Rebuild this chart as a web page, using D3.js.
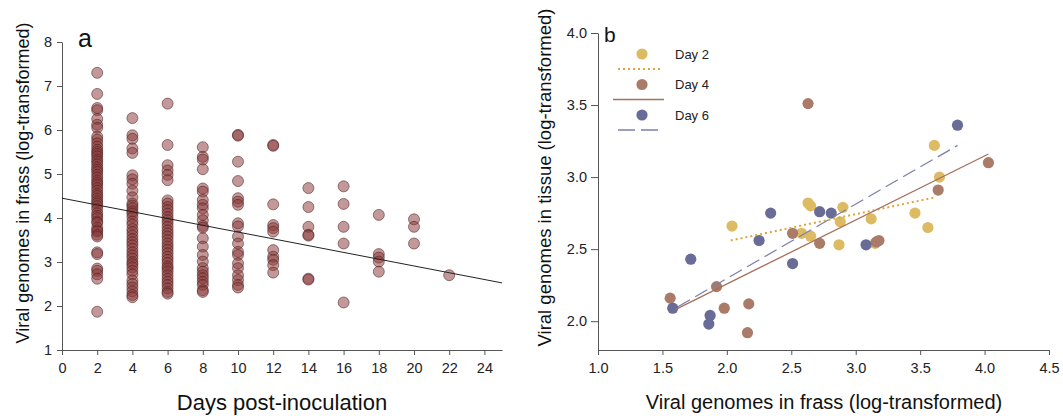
<!DOCTYPE html>
<html>
<head>
<meta charset="utf-8">
<script src="https://cdn.jsdelivr.net/npm/d3@7"></script>
<style>
  html, body { margin: 0; padding: 0; background: #fff; }
  svg { display: block; font-family: "Liberation Sans", Arial, sans-serif; }
  .axis path, .axis line { stroke: #555; stroke-width: 1; }
  .axis text { fill: #222; font-size: 14.5px; font-family: "Liberation Sans", Arial, sans-serif; }
</style>
</head>
<body>
<svg id="chart" width="1063" height="416"></svg>
<script>
// ---- Panel a: viral genomes in frass by day post-inoculation ----
const days = [2, 4, 6, 8, 10, 12, 14, 16, 18, 20, 22];
const frassDay2 = [7.30, 6.82, 6.50, 6.45, 6.25, 6.12, 6.05, 5.85, 5.78, 5.70, 5.62, 5.55, 5.50, 5.45,
  5.40, 5.33, 5.28, 5.22, 5.15, 5.10, 5.05, 4.98, 4.92, 4.85, 4.80, 4.75, 4.68, 4.62, 4.55, 4.50,
  4.44, 4.38, 4.33, 4.27, 4.20, 4.11, 4.05, 4.00, 3.92, 3.89, 3.78, 3.72, 3.69, 3.62, 3.58,
  3.22, 3.18, 2.85, 2.80, 2.72, 2.62, 1.87];
const frassDay4 = [6.27, 5.88, 5.80, 5.58, 5.48, 4.97, 4.88, 4.78, 4.62, 4.47, 4.33, 4.28, 4.22, 4.15,
  4.10, 4.02, 3.92, 3.85, 3.75, 3.68, 3.60, 3.52, 3.45, 3.38, 3.30, 3.22, 3.15, 3.08, 3.00, 2.95,
  2.88, 2.80, 2.72, 2.58, 2.50, 2.42, 2.33, 2.25, 2.20];
const frassDay6 = [6.60, 5.66, 5.20, 5.08, 4.98, 4.86, 4.40, 4.33, 4.25, 4.18, 4.10, 4.02, 3.95, 3.88,
  3.80, 3.72, 3.65, 3.58, 3.50, 3.42, 3.35, 3.28, 3.20, 3.12, 3.05, 2.98, 2.90, 2.85, 2.78, 2.70,
  2.62, 2.55, 2.48, 2.40, 2.32, 2.28];
const frassDay8 = [5.61, 5.39, 5.33, 5.11, 4.67, 4.60, 4.41, 4.30, 4.22, 4.07, 3.95, 3.82, 3.78, 3.54,
  3.35, 3.16, 3.01, 2.86, 2.78, 2.70, 2.63, 2.55, 2.48, 2.36, 2.32];
const frassDay10 = [5.89, 5.87, 5.28, 4.84, 4.45, 4.37, 4.30, 3.88, 3.81, 3.58, 3.42, 3.23, 3.16, 2.97,
  2.86, 2.70, 2.59, 2.48, 2.42];
const frassDay12 = [5.66, 5.64, 4.31, 3.84, 3.77, 3.69, 3.27, 3.12, 3.05, 2.93, 2.76];
const frassDay14 = [4.68, 4.25, 3.80, 3.62, 3.60, 2.62, 2.60];
const frassDay16 = [4.72, 4.32, 3.80, 3.42, 2.08];
const frassDay18 = [4.07, 3.18, 3.10, 3.01, 2.78];
const frassDay20 = [3.97, 3.80, 3.42];
const frassDay22 = [2.70];
const frassByDay = [frassDay2, frassDay4, frassDay6, frassDay8, frassDay10, frassDay12,
  frassDay14, frassDay16, frassDay18, frassDay20, frassDay22];
// fitted line: intercept and slope
const frassFit = [4.45, -0.077];
const dayTicks = [0, 2, 4, 6, 8, 10, 12, 14, 16, 18, 20, 22, 24];
const frassTicks = [1, 2, 3, 4, 5, 6, 7, 8];

// ---- Panel b: tissue vs frass by sampling day ----
const seriesNames = ["Day 2", "Day 4", "Day 6"];
const day2Frass = [2.04, 2.63, 2.65, 2.58, 2.65, 2.90, 2.88, 3.12, 2.87, 3.15, 3.46, 3.56, 3.61, 3.65];
const day2Tissue = [2.66, 2.82, 2.80, 2.61, 2.59, 2.79, 2.69, 2.71, 2.53, 2.54, 2.75, 2.65, 3.22, 3.00];
const day4Frass = [2.63, 4.03, 3.64, 1.56, 1.92, 1.98, 2.17, 2.16, 2.51, 2.72, 3.16, 3.18];
const day4Tissue = [3.51, 3.10, 2.91, 2.16, 2.24, 2.09, 2.12, 1.92, 2.61, 2.54, 2.55, 2.56];
const day6Frass = [3.79, 2.72, 2.81, 3.08, 2.51, 1.72, 1.58, 1.87, 1.86, 2.25, 2.34];
const day6Tissue = [3.36, 2.76, 2.75, 2.53, 2.40, 2.43, 2.09, 2.04, 1.98, 2.56, 2.75];
// fitted lines, as [frass, tissue] end points
const day2Fit = [[2.03, 2.56], [3.62, 2.86]];
const day4Fit = [[1.60, 2.08], [4.03, 3.16]];
const day6Fit = [[1.62, 2.10], [3.79, 3.22]];
const frassXTicks = [1.0, 1.5, 2.0, 2.5, 3.0, 3.5, 4.0, 4.5];
const tissueTicks = [2.0, 2.5, 3.0, 3.5, 4.0];

const svg = d3.select("#chart");
const font = "'Liberation Sans', Arial, sans-serif";

// ================= Panel a =================
const xA = d3.scaleLinear().domain([0, 25]).range([62, 502]);
const yA = d3.scaleLinear().domain([1, 8]).range([350, 42]);
const gA = svg.append("g");

gA.append("g").attr("class", "axis").attr("transform", `translate(0,${yA(1)})`)
  .call(d3.axisBottom(xA).tickValues(dayTicks).tickFormat(d3.format("d"))
    .tickSize(5).tickPadding(8).tickSizeOuter(0));
gA.append("g").attr("class", "axis").attr("transform", `translate(${xA(0)},0)`)
  .call(d3.axisLeft(yA).tickValues(frassTicks).tickFormat(d3.format("d"))
    .tickSize(5).tickPadding(5).tickSizeOuter(0));

const ptsA = [];
days.forEach((d, i) => frassByDay[i].forEach(v => ptsA.push({ day: d, v })));
gA.append("g").selectAll("circle").data(ptsA).join("circle")
  .attr("cx", p => xA(p.day)).attr("cy", p => yA(p.v)).attr("r", 5.5)
  .attr("fill", "#8b3a3a").attr("fill-opacity", 0.52)
  .attr("stroke", "#4a1e1e").attr("stroke-opacity", 0.6).attr("stroke-width", 0.9);

gA.append("line")
  .attr("x1", xA(0)).attr("y1", yA(frassFit[0]))
  .attr("x2", xA(25)).attr("y2", yA(frassFit[0] + frassFit[1] * 25))
  .attr("stroke", "#222").attr("stroke-width", 1);

gA.append("text").attr("x", 78).attr("y", 47).attr("font-size", 25).attr("fill", "#111")
  .attr("font-family", font).text("a");
gA.append("text").attr("transform", `translate(29,${(yA(1) + yA(8)) / 2 - 13}) rotate(-90)`)
  .attr("text-anchor", "middle").attr("font-size", 18).attr("fill", "#111").attr("font-family", font)
  .text("Viral genomes in frass (log-transformed)");
gA.append("text").attr("x", 282).attr("y", 410).attr("text-anchor", "middle")
  .attr("font-size", 22).attr("fill", "#111").attr("font-family", font).text("Days post-inoculation");

// ================= Panel b =================
const xB = d3.scaleLinear().domain([1.0, 4.5]).range([598, 1049]);
const yB = d3.scaleLinear().domain([1.8, 4.0]).range([350, 33]);
const gB = svg.append("g");
const fmt = d3.format(".1f");

gB.append("g").attr("class", "axis").attr("transform", `translate(0,${yB(1.8)})`)
  .call(d3.axisBottom(xB).tickValues(frassXTicks).tickFormat(fmt).tickSize(5).tickPadding(8).tickSizeOuter(0));
gB.append("g").attr("class", "axis").attr("transform", `translate(${xB(1.0)},0)`)
  .call(d3.axisLeft(yB).tickValues(tissueTicks).tickFormat(fmt).tickSize(7).tickPadding(4).tickSizeOuter(0));

const colors = ["#dcbb63", "#a97b68", "#686c97"];
const lineColors = ["#e0a43c", "#a5705c", "#7b80aa"];
const dashes = ["2,3", null, "14,6"];
const groups = [
  { x: day2Frass, y: day2Tissue, fit: day2Fit },
  { x: day4Frass, y: day4Tissue, fit: day4Fit },
  { x: day6Frass, y: day6Tissue, fit: day6Fit }
];

groups.forEach((g, i) => {
  gB.append("g").selectAll("circle").data(g.x.map((x, j) => [x, g.y[j]])).join("circle")
    .attr("cx", d => xB(d[0])).attr("cy", d => yB(d[1])).attr("r", 5.6)
    .attr("fill", colors[i]);
});
groups.forEach((g, i) => {
  gB.append("line")
    .attr("x1", xB(g.fit[0][0])).attr("y1", yB(g.fit[0][1]))
    .attr("x2", xB(g.fit[1][0])).attr("y2", yB(g.fit[1][1]))
    .attr("stroke", lineColors[i]).attr("stroke-width", i === 0 ? 2 : 1.3)
    .attr("stroke-dasharray", dashes[i]);
});

// legend
const legend = gB.append("g");
seriesNames.forEach((name, i) => {
  const cy = 54 + i * 30.5;
  legend.append("circle").attr("cx", 642).attr("cy", cy).attr("r", 5.6).attr("fill", colors[i]);
  legend.append("text").attr("x", 675).attr("y", cy + 4.5).attr("font-size", 13)
    .attr("fill", "#222").attr("font-family", font).text(name);
  legend.append("line")
    .attr("x1", i === 1 ? 613 : 618).attr("x2", i === 1 ? 664 : 660)
    .attr("y1", cy + 15).attr("y2", cy + 15)
    .attr("stroke", lineColors[i]).attr("stroke-width", i === 0 ? 2 : 1.3)
    .attr("stroke-dasharray", i === 2 ? "17,6" : dashes[i]);
});

gB.append("text").attr("x", 604).attr("y", 42).attr("font-size", 21).attr("fill", "#111")
  .attr("font-family", font).text("b");
gB.append("text").attr("transform", `translate(551,${(yB(1.8) + yB(4.0)) / 2 - 14}) rotate(-90)`)
  .attr("text-anchor", "middle").attr("font-size", 18.5).attr("fill", "#111").attr("font-family", font)
  .text("Viral genomes in tissue (log-transformed)");
gB.append("text").attr("x", 824).attr("y", 409).attr("text-anchor", "middle")
  .attr("font-size", 20).attr("fill", "#111").attr("font-family", font)
  .text("Viral genomes in frass (log-transformed)");
</script>
</body>
</html>
